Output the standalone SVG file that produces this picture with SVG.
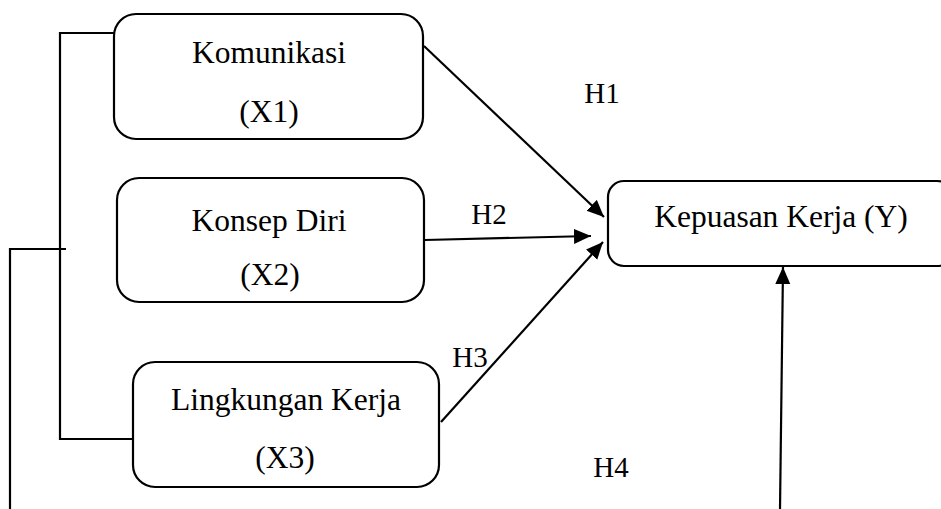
<svg xmlns="http://www.w3.org/2000/svg" width="941" height="509" viewBox="0 0 941 509">
<style>
.box{fill:#fff;stroke:#000;stroke-width:2.2}
.t{font-family:"Liberation Serif","Times New Roman",serif;font-size:31.5px;fill:#000;text-anchor:middle}
.h{font-family:"Liberation Serif","Times New Roman",serif;font-size:29px;fill:#000;text-anchor:middle}
.ln{fill:none;stroke:#000;stroke-width:2.2}
</style>
<defs>
<marker id="arr" markerUnits="userSpaceOnUse" markerWidth="18" markerHeight="16" refX="17" refY="7.5" orient="auto">
<path d="M0,0 L17,7.5 L0,15 Z" fill="#000"/>
</marker>
</defs>
<rect width="941" height="509" fill="#fff"/>
<g id="connectors">
<polyline class="ln" points="114,33 60,33 60,439 133,439"/>
<polyline class="ln" points="66,249 10,249 10,509"/>
<line class="ln" x1="424" y1="46" x2="604" y2="217" marker-end="url(#arr)"/>
<line class="ln" x1="425" y1="240" x2="591" y2="236" marker-end="url(#arr)"/>
<line class="ln" x1="441" y1="422" x2="603" y2="242" marker-end="url(#arr)"/>
<line class="ln" x1="780" y1="509" x2="783" y2="267" marker-end="url(#arr)"/>
<text class="h" x="602" y="103">H1</text>
<text class="h" x="489" y="224">H2</text>
<text class="h" x="470" y="367">H3</text>
<text class="h" x="611" y="477">H4</text>
</g>
<g id="node-x1">
<rect class="box" x="114" y="14" width="309" height="125" rx="22"/>
<text class="t" x="269" y="63">Komunikasi</text>
<text class="t" x="269" y="122">(X1)</text>
</g>
<g id="node-x2">
<rect class="box" x="117" y="178" width="307" height="124" rx="22"/>
<text class="t" x="269" y="231">Konsep Diri</text>
<text class="t" x="270" y="285">(X2)</text>
</g>
<g id="node-x3">
<rect class="box" x="133" y="362" width="306" height="125" rx="22"/>
<text class="t" x="286" y="410">Lingkungan Kerja</text>
<text class="t" x="285" y="468">(X3)</text>
</g>
<g id="node-y">
<rect class="box" x="608" y="181" width="345" height="85" rx="16"/>
<text class="t" x="781" y="227">Kepuasan Kerja (Y)</text>
</g>
</svg>
